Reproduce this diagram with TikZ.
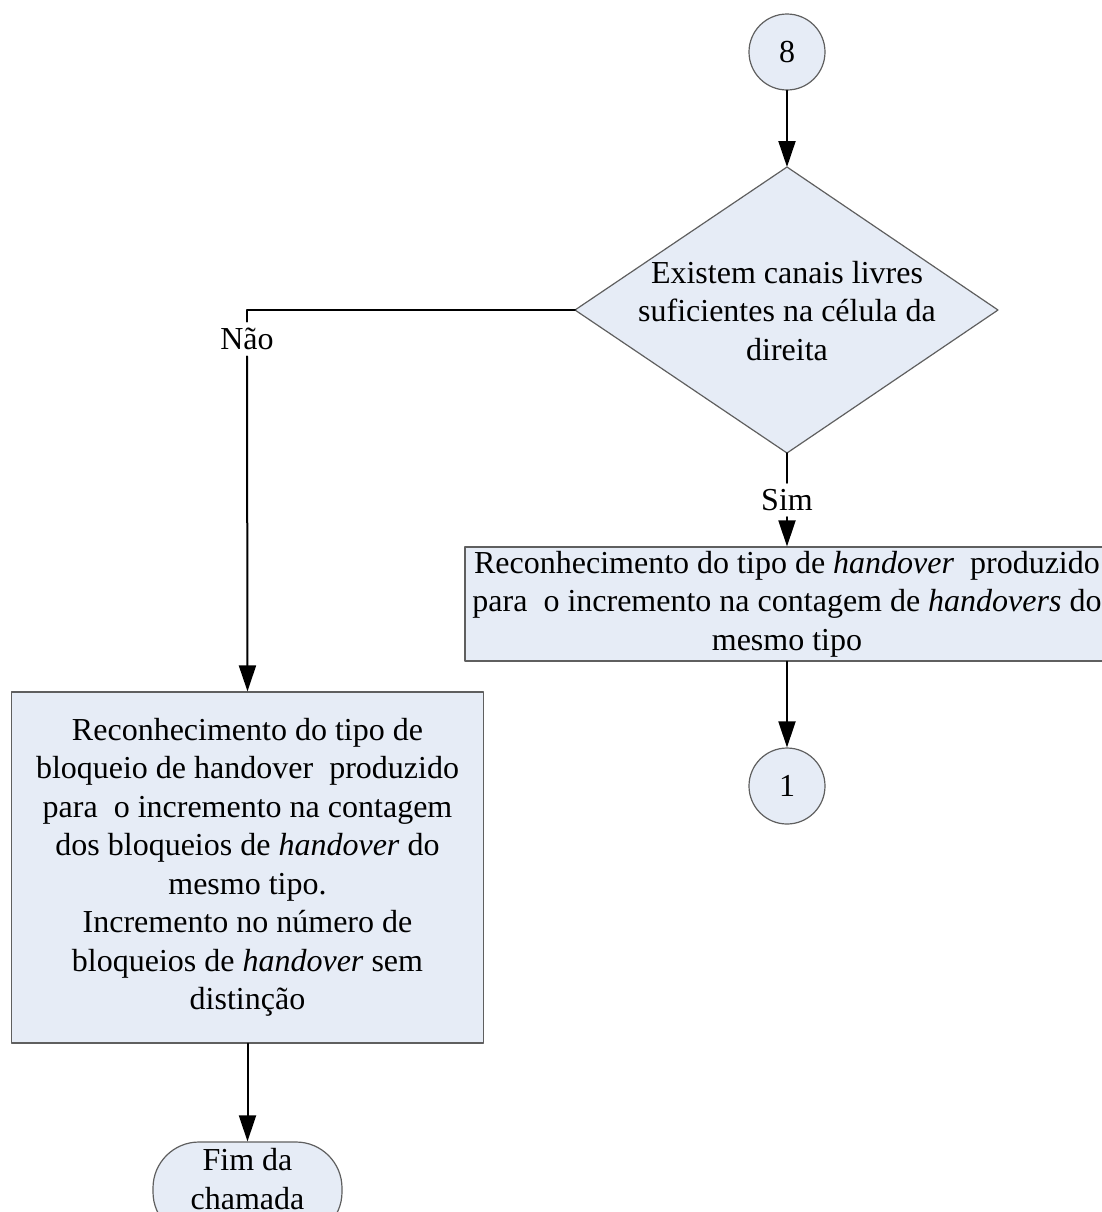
\documentclass[tikz,border=0pt]{standalone}
\usepackage{fontspec}
\setmainfont{Liberation Serif}
\usetikzlibrary{arrows.meta}
\definecolor{boxfill}{RGB}{230,236,246}
\definecolor{boxline}{RGB}{95,95,95}

\begin{document}
\begin{tikzpicture}[x=0.5pt, y=-0.5pt, line cap=round, line join=round,
  every node/.style={font=\fontsize{16pt}{19.25pt}\selectfont},
  box/.style={draw=boxline, fill=boxfill, line width=0.6pt, align=center, inner sep=0pt},
  conn/.style={line width=1pt, -{Triangle[length=13pt, width=8.5pt]}},
  plain/.style={line width=1pt},
  lbl/.style={inner xsep=2pt, inner ysep=3pt}]
\useasboundingbox (0,0) rectangle (1102,1212);

\node[box, circle, minimum size=38pt] (c8) at (787,52) {8};

\coordinate (dtop) at (787,167);
\coordinate (dright) at (998,310);
\coordinate (dbot) at (787,453);
\coordinate (dleft) at (575,310);
\draw[box] (dtop) -- (dright) -- (dbot) -- (dleft) -- cycle;
\node[align=center] (dtext) at (787,311) {Existem canais livres\\suficientes na célula da\\direita};

\node[lbl] (nao) at (247,339) {Não};
\node[lbl] (sim) at (787,500) {Sim};

\node[box, minimum width=322pt, minimum height=57pt] (rbox) at (787,604)
  {Reconhecimento do tipo de \textit{handover}\ \ produzido\\
   para\ \ o incremento na contagem de \textit{handovers} do\\
   mesmo tipo};

\node[box, circle, minimum size=38pt] (c1) at (787,786) {1};

\node[box, minimum width=236pt, minimum height=175.5pt] (lbox) at (247.5,867.5)
  {Reconhecimento do tipo de\\
   bloqueio de handover\ \ produzido\\
   para\ \ o incremento na contagem\\
   dos bloqueios de \textit{handover} do\\
   mesmo tipo.\\
   Incremento no número de\\
   bloqueios de \textit{handover} sem\\
   distinção};

\node[box, rounded corners=23pt, minimum width=94.5pt, minimum height=48pt,
  text depth=11pt] (fim) at (247.5,1190) {Fim da\\chamada};

\draw[conn] (c8) -- (dtop);
\draw[plain] (dleft) -| (nao.north);
\draw[conn] (nao.south) -- (lbox.north);
\draw[plain] (dbot) -- (sim.north);
\draw[conn] (sim.south) -- (rbox.north);
\draw[conn] (rbox.south) -- (c1.north);
\draw[conn] (lbox.south) -- (fim.north);
\end{tikzpicture}
\end{document}
